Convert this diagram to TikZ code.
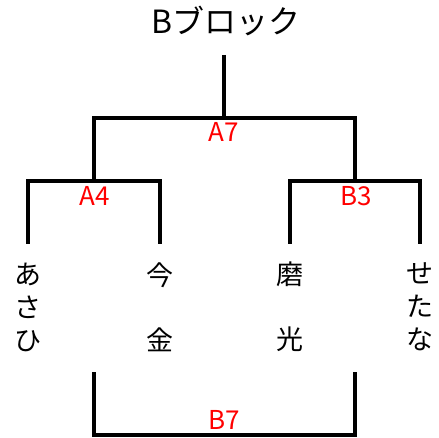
\documentclass[tikz,border=0pt]{standalone}
\usepackage{fontspec}
\setmainfont{Noto Sans CJK JP}
\begin{document}
\begin{tikzpicture}[x=1pt, y=-1pt, every path/.style={line width=3.4pt},
    title/.style={font=\fontsize{32}{36}\selectfont},
    score/.style={text=red, inner sep=0pt, font=\fontsize{26}{30}\selectfont},
    team/.style={inner sep=0pt, align=center, font=\fontsize{27}{33}\selectfont}]
    \useasboundingbox (0,0) rectangle (439,438);

    \node[title] (title) at (226,21) {Bブロック};
    \coordinate (root) at (224,55);
    \coordinate (j7) at (224,118);
    
    \coordinate (c1) at (94,118);
    \coordinate (c2) at (355,118);
    \coordinate (j4) at (94,181);
    \coordinate (j3) at (355,181);
    
    \coordinate (l1) at (28,181);
    \coordinate (l2) at (160,181);
    \coordinate (l3) at (290,181);
    \coordinate (l4) at (420,181);
    \coordinate (e1) at (28,244);
    \coordinate (e2) at (160,244);
    \coordinate (e3) at (290,244);
    \coordinate (e4) at (420,244);

    \node[score] (a7) at (224,132) {A7};
    \node[score] (a4) at (95,196) {A4};
    \node[score] (b3) at (356,196) {B3};

    \node[team] (t1) at (28,307) {あ\\さ\\ひ};
    \node[team] (t2) at (160,307) {今\\[32pt]金};
    \node[team] (t3) at (290,307) {磨\\[32pt]光};
    \node[team] (t4) at (420,307) {せ\\た\\な};

    \coordinate (b1) at (94,372);
    \coordinate (b2) at (355,372);
    \coordinate (b3) at (94,435);
    \coordinate (b4) at (355,435);
    \node[score] (b7) at (224,420) {B7};

    \draw[] (root) to (j7);
    \draw[] (j4) -- (c1) -- (c2) -- (j3);
    \draw[] (e1) -- (l1) -- (l2) -- (e2);
    \draw[] (e3) -- (l3) -- (l4) -- (e4);
    \draw[] (b1) -- (b3) -- (b4) -- (b2);
    
\end{tikzpicture}
\end{document}
